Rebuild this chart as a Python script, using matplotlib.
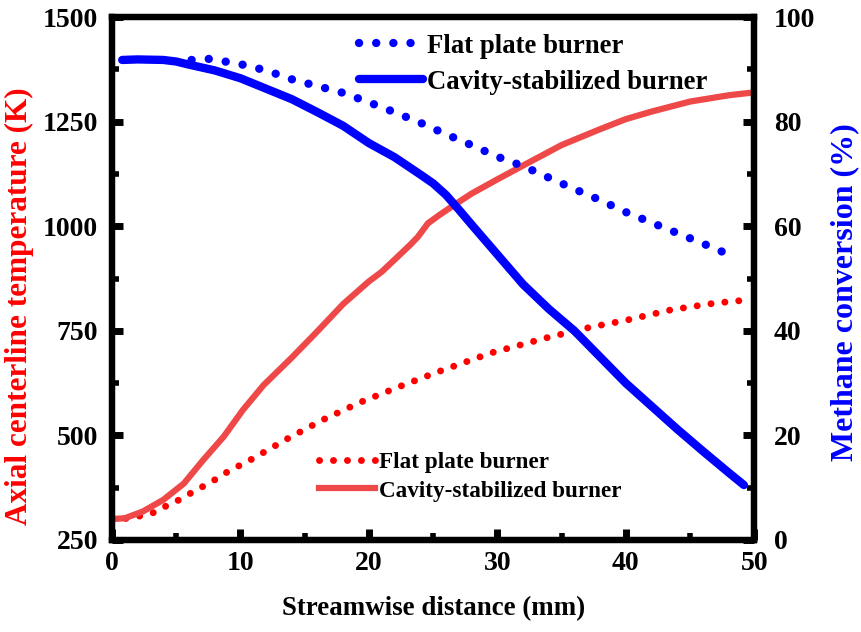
import numpy as np
import matplotlib
matplotlib.use('Agg')
import matplotlib.pyplot as plt

# --------------------------- DATA ---------------------------

# Axial centerline temperature (K), left axis.
x_temp_cavity = [0, 1, 2.4, 4, 5.6, 7.1, 8.7, 10.2, 11.8, 14, 16, 18, 20, 21, 22, 23.2, 23.8, 24.6, 25.5,
                 26.6, 28, 30, 32, 35, 38, 40, 42, 45, 48, 50]
temp_cavity = [300, 302, 318, 346, 385, 441, 497, 561, 620, 686, 749, 814, 868, 891, 920, 955, 974, 1007, 1027,
               1050, 1078, 1112, 1145, 1194, 1232, 1256, 1274, 1298, 1313, 1320]

x_temp_flat = [0, 1, 2, 3.2, 4, 5, 5.8, 6.6, 7.4, 8.3, 9.1, 10, 11, 11.9, 13.6, 16.4, 19.4, 22.5, 25.3,
               29.5, 33.8, 37.3, 40, 43.5, 46.9, 49.2]
temp_flat = [300, 301, 306, 315, 328, 342, 356, 370, 383, 399, 415, 429, 445, 461, 491, 537, 580, 618, 651,
             697, 733, 759, 775, 800, 816, 823]

# Methane conversion (%), right axis.
x_conv_cavity = [0.8, 2, 4, 5, 6, 8, 10, 12, 14, 16, 18, 20, 22, 24, 25, 26, 27, 28, 30, 32, 34, 36,
                 38, 40, 42, 44, 46, 48, 49.2]
conv_cavity = [91.8, 91.9, 91.8, 91.5, 90.9, 89.8, 88.3, 86.3, 84.3, 81.8, 79.2, 75.9, 73.2, 69.9, 68.2,
               66.0, 63.2, 60.3, 54.6, 48.9, 44.2, 40.0, 35.0, 30.0, 25.6, 21.2, 17.0, 12.9, 10.5]

x_conv_flat = [6.2, 7.6, 10, 12, 14, 16, 18, 20, 22, 24, 26, 28, 30, 32, 34, 36, 38, 40, 42, 44, 46, 48.3]
conv_flat = [91.8, 92.0, 91.0, 89.8, 88.1, 86.8, 85.5, 83.7, 81.8, 79.8, 77.6, 75.5, 73.3, 71.5, 69.3,
             67.1, 65.0, 62.7, 60.7, 58.7, 56.7, 54.3]

# --------------------------- STYLE ---------------------------

plt.rcParams['font.family'] = ['Liberation Serif', 'DejaVu Serif']
plt.rcParams['font.weight'] = 'bold'
plt.rcParams['axes.labelweight'] = 'bold'

red_solid = '#EE4848'
red_dot = '#FF0000'
blue = '#0000FF'

# --------------------------- PLOT ---------------------------

fig = plt.figure(figsize=(8.61, 6.32), dpi=100)
ax = fig.add_axes([0.130, 0.1456, 0.746, 0.8274])
ax2 = ax.twinx()

ax.plot(x_temp_flat, temp_flat, color=red_dot, lw=5, linestyle=(0, (0.01, 2.0)),
        dash_capstyle='round', label='Flat plate burner')
ax.plot(x_temp_cavity, temp_cavity, color=red_solid, lw=4.5, label='Cavity-stabilized burner')

ax2.plot(x_conv_flat, conv_flat, color=blue, lw=6, linestyle=(0, (0.01, 2.05)),
         dash_capstyle='round', label='Flat plate burner')
ax2.plot(x_conv_cavity, conv_cavity, color=blue, lw=6, solid_capstyle='round',
         label='Cavity-stabilized burner')

ax.set_xlim(0, 50)
ax.set_ylim(250, 1500)
ax2.set_ylim(0, 100)

ax.set_xticks(np.arange(0, 51, 10))
ax.set_xticks(np.arange(5, 50, 10), minor=True)
ax.set_yticks(np.arange(250, 1501, 250))
ax.set_yticks(np.arange(375, 1500, 250), minor=True)
ax2.set_yticks(np.arange(0, 101, 20))
ax2.set_yticks(np.arange(10, 100, 20), minor=True)

for a in (ax, ax2):
    for s in a.spines.values():
        s.set_linewidth(4.5)
    a.tick_params(which='major', direction='in', length=8, width=5, labelsize=20)
    a.tick_params(which='minor', direction='in', length=5, width=4)
ax.tick_params(axis='x', pad=8)
ax.tick_params(axis='y', pad=10)
ax2.tick_params(axis='y', pad=14)

ax.set_xlabel('Streamwise distance (mm)', fontsize=19.4)
ax.xaxis.set_label_coords(0.5, -0.107)
ax.set_ylabel('Axial centerline temperature (K)', fontsize=22.5, color='#FF0000')
ax.yaxis.set_label_coords(-0.122, 0.447)
ax2.set_ylabel('Methane conversion (%)', fontsize=23, color=blue)
ax2.yaxis.set_label_coords(1.119, 0.474)

ax.legend(loc='upper left', bbox_to_anchor=(0.323, 0.168), frameon=False, fontsize=16.7,
          handlelength=2.4, handletextpad=0.15, borderpad=0, borderaxespad=0, labelspacing=0.3)
ax2.legend(loc='upper left', bbox_to_anchor=(0.384, 0.968), frameon=False, fontsize=19.3,
           handlelength=2.4, handletextpad=0.15, borderpad=0, borderaxespad=0, labelspacing=0.4)

fig.savefig('out.png', dpi=100)
